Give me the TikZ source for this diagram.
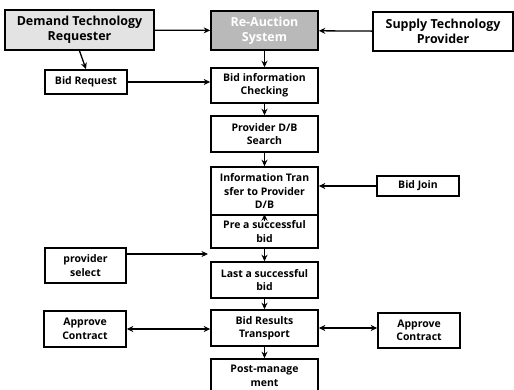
\documentclass[tikz,border=0pt]{standalone}
\usepackage{fontspec}
\setmainfont{Open Sans}
\usetikzlibrary{arrows.meta}
\begin{document}
\begin{tikzpicture}[x=1bp,y=-1bp,
  box/.style={draw=black,line width=1.6bp,inner sep=0pt,align=center,
    font=\fontsize{10.5}{13.5}\selectfont\bfseries},
  topbox/.style={box,font=\fontsize{12.5}{15}\selectfont\bfseries},
  colbox/.style={box,minimum width=107bp},
  tip/.style={Stealth[length=6.5bp,width=6bp]},
  arr/.style={line width=1.3bp,-{Stealth[length=6.5bp,width=6bp]}},
  darr/.style={line width=1.3bp,{Stealth[length=6.5bp,width=6bp]}-{Stealth[length=6.5bp,width=6bp]}}]
\useasboundingbox (0,0) rectangle (514,389);

% top row
\node[topbox,fill=gray!22,minimum width=149bp,minimum height=40bp] (demand) at (79.5,30) {Demand Technology\\Requester};
\node[topbox,fill=gray!55,text=white,minimum width=107bp,minimum height=39bp] (reauc) at (264.5,30.5) {Re-Auction\\System};
\node[topbox,fill=white,minimum width=140bp,minimum height=39bp] (supply) at (443,31.5) {Supply Technology\\Provider};

% central column
\node[colbox,minimum height=35bp] (bidinfo) at (264.5,85.5) {Bid information\\Checking};
\node[colbox,minimum height=36bp] (pdb) at (264.5,134) {Provider D/B\\Search};
\node[colbox,minimum height=48bp] (itrans) at (264.5,191) {Information Tran\\sfer to Provider\\D/B};
\node[colbox,minimum height=33bp] (pre) at (264.5,231.5) {Pre a successful\\bid};
\node[colbox,minimum height=36bp] (last) at (264.5,280) {Last a successful\\bid};
\node[colbox,minimum height=36bp] (results) at (264.5,328) {Bid Results\\Transport};
\node[colbox,minimum height=34bp] (post) at (264.5,376) {Post-manage\\ment};

% side boxes
\node[box,minimum width=82bp,minimum height=24bp] (bidreq) at (86,82) {Bid Request};
\node[box,minimum width=82bp,minimum height=20bp] (bidjoin) at (418,186) {Bid Join};
\node[box,minimum width=81bp,minimum height=35bp] (psel) at (85.5,265.5) {provider\\select};
\node[box,minimum width=82bp,minimum height=36bp] (appL) at (85,329) {Approve\\Contract};
\node[box,minimum width=82bp,minimum height=35bp] (appR) at (419,330.5) {Approve\\Contract};

\coordinate (selend) at (208,254);

% connectors
\draw[arr] (demand) -- (reauc);
\draw[arr] (supply) -- (reauc);
\draw[arr] (demand.south) -- (bidreq.north);
\draw[arr] (bidreq.east) -- (bidreq.east -| bidinfo.west);
\draw[arr] (reauc) -- (bidinfo);
\draw[arr] (bidinfo) -- (pdb);
\draw[arr] (pdb) -- (itrans);
\draw[arr] (bidjoin.west) -- (bidjoin.west -| itrans.east);
\draw[arr] ([yshift=-7bp]pre.north) -- (pre.north);
\draw[arr] (pre) -- (last);
\draw[arr] (psel.east |- selend) -- (selend);
\draw[arr] (last) -- (results);
\draw[darr] (appL.east) -- (appL.east -| results.west);
\draw[darr] (results.east) -- (results.east -| appR.west);
\draw[arr] (results) -- (post);
\end{tikzpicture}
\end{document}
